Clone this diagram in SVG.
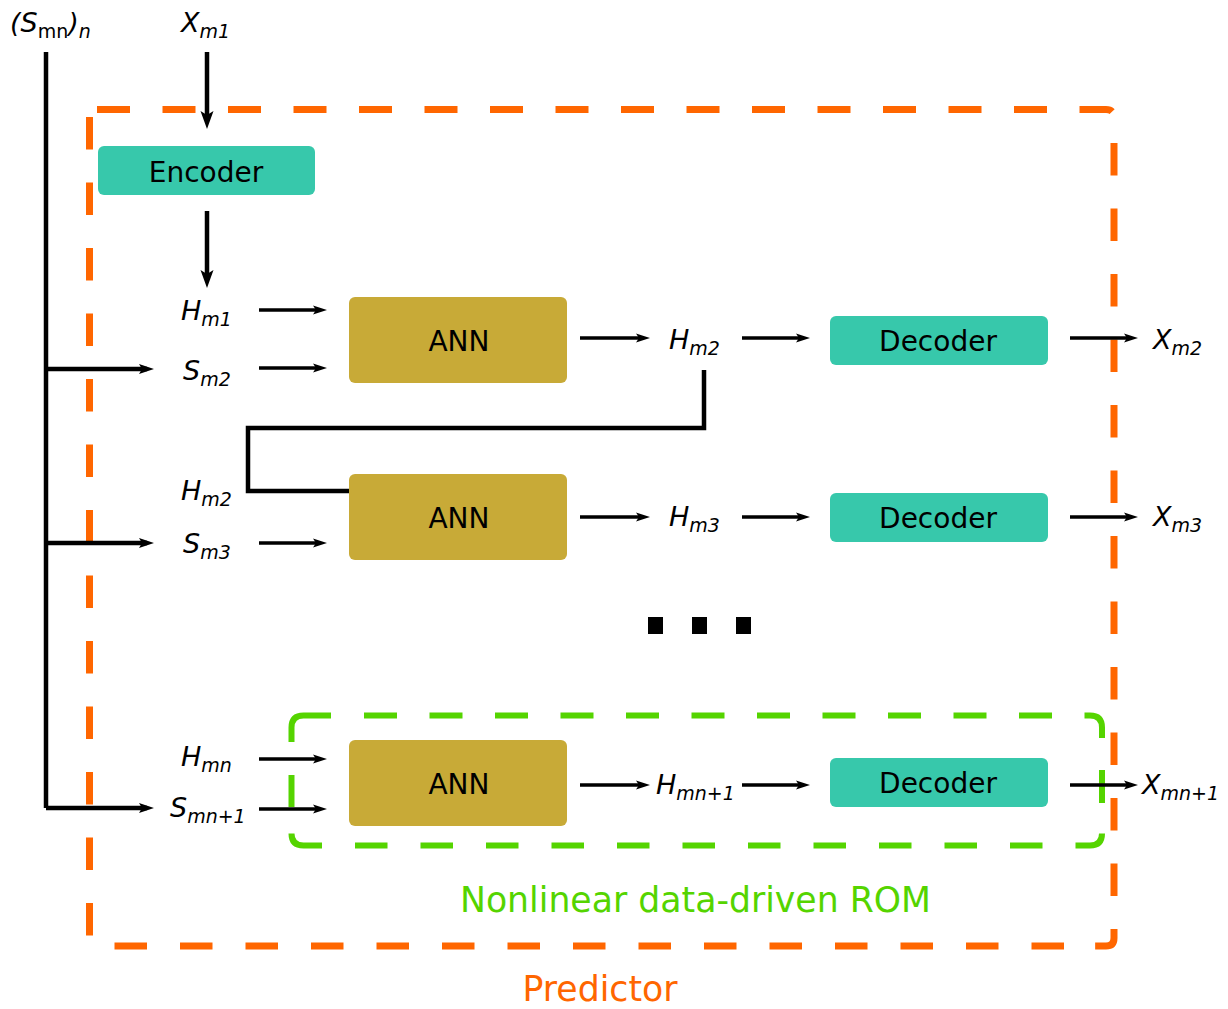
<svg xmlns="http://www.w3.org/2000/svg" width="1228" height="1009" viewBox="0 0 1228 1009">
  <style>
    .lbl { font-family: "DejaVu Sans", "Liberation Sans", sans-serif; font-style: oblique; font-size: 27px; fill: #000; }
    .sub { font-size: 19px; }
    .up { font-style: normal; }
    .box-t { font-family: "DejaVu Sans", "Liberation Sans", sans-serif; font-size: 28px; fill: #000; text-anchor: middle; }
    .enc { fill: #37C8AB; }
    .ann { fill: #C8AA37; }
    .thin { stroke: #000; stroke-width: 3.5; fill: none; marker-end: url(#ah); }
    .thick { stroke: #000; stroke-width: 4.5; fill: none; }
    .cap { font-family: "DejaVu Sans", "Liberation Sans", sans-serif; font-size: 34.7px; text-anchor: middle; }
    .pred-line { fill: none; stroke: #FF6600; stroke-width: 7; }
    .rom-line { fill: none; stroke: #55D400; stroke-width: 6; }
  </style>
  <defs>
    <marker id="ah" markerUnits="userSpaceOnUse" markerWidth="14" markerHeight="9" refX="8" refY="4.5" orient="auto" overflow="visible">
      <path d="M0,0 L14,4.5 L0,9 L3,4.5 z" fill="#000"/>
    </marker>
    <marker id="ahb" markerUnits="userSpaceOnUse" markerWidth="18" markerHeight="13" refX="10" refY="6.5" orient="auto" overflow="visible">
      <path d="M0,0 L18,6.5 L0,13 L4,6.5 z" fill="#000"/>
    </marker>
    <marker id="ahm" markerUnits="userSpaceOnUse" markerWidth="15" markerHeight="10" refX="8" refY="5" orient="auto" overflow="visible">
      <path d="M0,0 L15,5 L0,10 L3,5 z" fill="#000"/>
    </marker>
  </defs>

  <rect width="1228" height="1009" fill="#fff"/>

  <!-- Predictor frame: each side dashed on its own -->
  <g id="predictor">
    <path class="pred-line" stroke-dasharray="33 32.5" d="M97,109.5 H1106 Q1114,109.5 1114,117.5"/>
    <path class="pred-line" stroke-dasharray="32.5 33" d="M1114,143 V938 Q1114,946 1106,946 H1090"/>
    <path class="pred-line" stroke-dasharray="32.5 33" d="M114.5,946 H1066"/>
    <path class="pred-line" stroke-dasharray="32.5 33" d="M89.5,117 V936"/>
    <text class="cap" x="600" y="1001" fill="#FF6600">Predictor</text>
  </g>

  <!-- ROM frame -->
  <g id="rom">
    <path class="rom-line" d="M291.5,742 V727.5 Q291.5,715.5 303.5,715.5 H331"/>
    <path class="rom-line" stroke-dasharray="33 32.5" d="M364,715.5 H1070"/>
    <path class="rom-line" d="M1084.5,715.5 H1090 Q1102,715.5 1102,727.5 V738"/>
    <path class="rom-line" d="M1102,770 V803"/>
    <path class="rom-line" d="M1102,833.5 Q1102,845.5 1090,845.5 H1075.5"/>
    <path class="rom-line" stroke-dasharray="32.5 33" d="M355,845.5 H1050"/>
    <path class="rom-line" d="M291.5,833.5 Q291.5,845.5 303.5,845.5 H322"/>
    <path class="rom-line" d="M291.5,775 V807"/>
    <text class="cap" x="695.5" y="912" fill="#55D400">Nonlinear data-driven ROM</text>
  </g>

  <!-- inputs -->
  <g id="input-s">
    <text class="lbl" x="10" y="32">(S<tspan class="sub up" dy="6">mn</tspan><tspan dy="-6">)</tspan><tspan class="sub" dy="6">n</tspan></text>
  </g>
  <g id="input-x">
    <text class="lbl" x="181" y="32">X<tspan class="sub" dy="6">m1</tspan></text>
  </g>

  <!-- encoder -->
  <g id="encoder">
    <rect class="enc" x="98" y="146" width="217" height="49" rx="6"/>
    <text class="box-t" x="206" y="182">Encoder</text>
  </g>

  <!-- step 1 -->
  <g id="h-m1"><text class="lbl" x="181" y="320">H<tspan class="sub" dy="6">m1</tspan></text></g>
  <g id="s-m2"><text class="lbl" x="183" y="380">S<tspan class="sub" dy="6">m2</tspan></text></g>
  <g id="ann-1">
    <rect class="ann" x="349" y="297" width="218" height="86" rx="6"/>
    <text class="box-t" x="459" y="351">ANN</text>
  </g>
  <g id="h-m2-out"><text class="lbl" x="669" y="349">H<tspan class="sub" dy="6">m2</tspan></text></g>
  <g id="decoder-1">
    <rect class="enc" x="830" y="316" width="218" height="49" rx="6"/>
    <text class="box-t" x="938" y="351">Decoder</text>
  </g>
  <g id="x-m2"><text class="lbl" x="1153" y="349">X<tspan class="sub" dy="6">m2</tspan></text></g>

  <!-- step 2 -->
  <g id="h-m2-in"><text class="lbl" x="181" y="500">H<tspan class="sub" dy="6">m2</tspan></text></g>
  <g id="s-m3"><text class="lbl" x="183" y="553">S<tspan class="sub" dy="6">m3</tspan></text></g>
  <g id="ann-2">
    <rect class="ann" x="349" y="474" width="218" height="86" rx="6"/>
    <text class="box-t" x="459" y="528">ANN</text>
  </g>
  <g id="h-m3"><text class="lbl" x="669" y="526">H<tspan class="sub" dy="6">m3</tspan></text></g>
  <g id="decoder-2">
    <rect class="enc" x="830" y="493" width="218" height="49" rx="6"/>
    <text class="box-t" x="938" y="528">Decoder</text>
  </g>
  <g id="x-m3"><text class="lbl" x="1153" y="526">X<tspan class="sub" dy="6">m3</tspan></text></g>

  <!-- ellipsis -->
  <g id="ellipsis" fill="#000">
    <rect x="648" y="617" width="15" height="17"/>
    <rect x="692" y="617" width="15" height="17"/>
    <rect x="736" y="617" width="15" height="17"/>
  </g>

  <!-- step n -->
  <g id="h-mn"><text class="lbl" x="181" y="766">H<tspan class="sub" dy="6">mn</tspan></text></g>
  <g id="s-mn1"><text class="lbl" x="170" y="817">S<tspan class="sub" dy="6">mn+1</tspan></text></g>
  <g id="ann-n">
    <rect class="ann" x="349" y="740" width="218" height="86" rx="6"/>
    <text class="box-t" x="459" y="794">ANN</text>
  </g>
  <g id="h-mn1"><text class="lbl" x="656" y="794">H<tspan class="sub" dy="6">mn+1</tspan></text></g>
  <g id="decoder-n">
    <rect class="enc" x="830" y="758" width="218" height="49" rx="6"/>
    <text class="box-t" x="938" y="793">Decoder</text>
  </g>
  <g id="x-mn1"><text class="lbl" x="1142" y="794">X<tspan class="sub" dy="6">mn+1</tspan></text></g>

  <!-- connectors -->
  <g id="connectors">
    <!-- parameter bus -->
    <path class="thick" d="M46,52 V808"/>
    <path class="thick" d="M46,369 H147" marker-end="url(#ahm)"/>
    <path class="thick" d="M46,543 H147" marker-end="url(#ahm)"/>
    <path class="thick" d="M46,808 H147" marker-end="url(#ahm)"/>
    <!-- encoder path -->
    <path class="thick" d="M207,52 V121" marker-end="url(#ahb)"/>
    <path class="thick" d="M207,211 V280" marker-end="url(#ahb)"/>
    <!-- step 1 -->
    <path class="thin" d="M259,310 H321"/>
    <path class="thin" d="M259,368 H321"/>
    <path class="thin" d="M580,338 H644"/>
    <path class="thin" d="M742,338 H804"/>
    <path class="thin" d="M1070,338 H1132"/>
    <!-- feedback of H_m2 -->
    <path class="thick" d="M704,370 V428 H248 V491 H349"/>
    <!-- step 2 -->
    <path class="thin" d="M259,543 H321"/>
    <path class="thin" d="M580,517 H644"/>
    <path class="thin" d="M742,517 H804"/>
    <path class="thin" d="M1070,517 H1132"/>
    <!-- step n -->
    <path class="thin" d="M259,759 H321"/>
    <path class="thin" d="M259,809 H321"/>
    <path class="thin" d="M580,785 H644"/>
    <path class="thin" d="M742,785 H804"/>
    <path class="thin" d="M1070,785 H1132"/>
  </g>
</svg>
